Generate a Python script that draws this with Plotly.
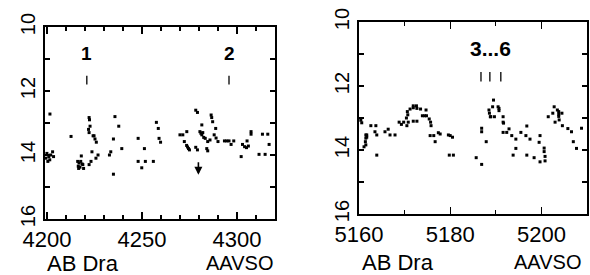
import plotly.graph_objects as go

# ---------------- data ----------------
# Left panel: AB Dra, JD-2440000 4199..4320
left_jd = [4201.6, 4199.5, 4200.0, 4200.5, 4201.0, 4201.5, 4202.0, 4203.0, 4203.5,
           4212.7, 4222.2, 4222.4, 4222.7, 4221.9, 4222.2, 4224.3, 4224.8, 4225.3, 4226.0,
           4223.7, 4226.9, 4225.8, 4223.2, 4222.2, 4218.1,
           4216.2, 4216.9, 4217.8, 4218.5, 4216.5, 4217.4, 4218.9, 4219.3, 4216.7,
           4235.8, 4237.8, 4235.0, 4239.4, 4233.6, 4232.9, 4235.0,
           4248.0, 4251.3, 4248.0, 4249.9, 4251.8, 4256.0,
           4257.6, 4258.6, 4259.0, 4259.8,
           4278.3, 4279.2, 4286.4, 4286.7, 4287.2, 4288.8, 4281.5,
           4280.5, 4281.0, 4281.5, 4282.0, 4282.5, 4283.3,
           4271.5, 4273.6, 4272.3, 4273.5, 4274.0, 4274.5, 4275.0, 4270.0,
           4278.3, 4279.2, 4284.1, 4284.6, 4284.6, 4285.8,
           4288.0, 4289.0, 4290.0,
           4293.4, 4294.6, 4295.8, 4296.9, 4298.3,
           4302.2, 4302.9, 4304.0, 4305.0, 4306.0, 4305.3,
           4307.4, 4307.4, 4313.4, 4316.2, 4316.9, 4311.6, 4314.8]
left_mag = [12.72, 14.10, 13.95, 14.20, 14.05, 14.15, 14.00, 13.90, 14.05,
            13.42, 12.83, 12.90, 13.10, 13.20, 13.30, 13.40, 13.40, 13.50, 13.60,
            13.90, 14.00, 14.10, 14.20, 14.30, 14.03,
            14.20, 14.25, 14.20, 14.28, 14.35, 14.38, 14.30, 14.42, 14.42,
            12.80, 13.10, 13.50, 13.80, 13.90, 14.00, 14.60,
            13.48, 13.80, 14.20, 14.40, 14.20, 14.20,
            12.98, 13.17, 13.48, 13.60,
            12.60, 12.67, 12.75, 12.83, 12.96, 13.17, 13.06,
            13.27, 13.32, 13.37, 13.30, 13.45, 13.48,
            13.37, 13.27, 13.58, 13.70, 13.75, 13.80, 13.84, 13.37,
            13.76, 13.84, 13.80, 13.87, 13.58, 13.53,
            13.37, 13.47, 13.58,
            13.56, 13.56, 13.56, 13.67, 13.56,
            14.05, 13.67, 13.74, 13.77, 13.72, 13.56,
            13.27, 13.35, 13.35, 13.35, 13.67, 13.98, 13.98]

# Right panel: AB Dra, JD-2440000 5160..5210
right_jd = [5160.4, 5160.6, 5161.1, 5161.5, 5161.5, 5161.4, 5161.7, 5161.7, 5161.5,
            5162.6, 5163.7, 5163.5, 5163.9, 5163.9,
            5165.7, 5166.4, 5166.8, 5167.9,
            5168.8, 5169.3, 5169.8, 5170.5, 5170.8, 5170.6, 5170.7, 5170.4,
            5171.2, 5171.9, 5171.9, 5172.6, 5172.7, 5171.9, 5172.7,
            5173.5, 5173.9, 5174.4, 5174.7, 5174.8, 5175.4, 5175.7, 5175.8,
            5175.6, 5176.4, 5176.7, 5177.4, 5177.8, 5179.6, 5180.0, 5180.5, 5179.8, 5180.7,
            5185.7, 5186.9, 5186.9, 5186.9, 5187.9, 5188.5, 5188.6, 5188.8, 5188.9,
            5189.5, 5189.3, 5189.7, 5190.5, 5190.7, 5190.7, 5191.6, 5191.6, 5191.7,
            5191.6, 5192.4, 5192.9, 5193.5, 5194.4, 5193.8, 5194.4, 5195.5, 5196.6,
            5196.8, 5197.5, 5196.8, 5198.4, 5199.5, 5199.7, 5199.7,
            5200.6, 5200.6, 5200.8, 5200.8, 5201.5, 5202.5, 5202.8, 5203.0,
            5203.5, 5203.8, 5203.8, 5203.9, 5203.8, 5204.5, 5204.6, 5205.8, 5206.6,
            5207.0, 5207.7, 5208.8]
right_mag = [13.07, 13.15, 13.90, 13.53, 13.63, 13.74, 13.53, 13.60, 13.84,
             13.24, 13.24, 13.43, 13.53, 14.16,
             13.43, 13.35, 13.53, 13.53,
             13.13, 13.20, 13.13, 13.24, 13.13, 12.80, 12.90, 13.00,
             12.72, 12.62, 12.68, 12.62, 12.70, 13.10, 13.10,
             12.72, 12.93, 12.93, 12.75, 12.93, 13.03, 13.13, 13.24,
             13.55, 13.55, 13.74, 13.46, 13.50, 13.53, 13.55, 13.60, 14.16, 14.16,
             14.24, 14.45, 13.32, 13.43, 13.74, 12.75, 12.85, 12.96, 12.96,
             12.44, 12.65, 12.96, 12.65, 12.70, 12.77, 12.96, 13.13, 13.16,
             13.45, 13.45, 13.34, 13.55, 13.66, 14.16, 13.95, 13.45, 13.55,
             13.25, 13.66, 14.16, 14.24, 13.76, 13.55, 14.37,
             13.94, 14.05, 14.20, 14.34, 12.96, 12.85, 12.65, 13.13,
             12.75, 12.80, 12.95, 13.06, 12.88, 12.85, 13.24, 13.33, 13.43,
             13.74, 13.95, 13.32]

# event labels and marker dashes
left_event_labels = ["1", "2"]
left_event_jd = [4221.0, 4295.8]
right_event_label = "3...6"
right_event_label_jd = 5188.9
right_event_jd = [5186.75, 5188.7, 5191.1]
event_label_mag = 10.82
event_dash_mag = [11.52, 11.80]
right_dash_mag = [11.56, 11.86]

# upper-limit arrow
arrow_jd = 4279.7
arrow_mag = [14.18, 14.62]

left_xticks = [4200, 4250, 4300]
right_xticks = [5160, 5180, 5200]
mag_ticks = [10, 12, 14, 16]

FONT = "Liberation Sans, Arial, sans-serif"
W, H = 590, 275


def dash_xy(xs, ys):
    X, Y = [], []
    for x in xs:
        X += [x, x, None]
        Y += [ys[0], ys[1], None]
    return X, Y


fig = go.Figure()
mk = dict(color="black", size=3, symbol="square", line=dict(width=0))
fig.add_trace(go.Scatter(x=left_jd, y=left_mag, mode="markers", marker=mk,
                         xaxis="x", yaxis="y", showlegend=False, hoverinfo="skip"))
fig.add_trace(go.Scatter(x=right_jd, y=right_mag, mode="markers", marker=mk,
                         xaxis="x2", yaxis="y2", showlegend=False, hoverinfo="skip"))

dx, dy = dash_xy(left_event_jd, event_dash_mag)
fig.add_trace(go.Scatter(x=dx, y=dy, mode="lines", line=dict(color="black", width=1.3),
                         xaxis="x", yaxis="y", showlegend=False, hoverinfo="skip"))
dx, dy = dash_xy(right_event_jd, right_dash_mag)
fig.add_trace(go.Scatter(x=dx, y=dy, mode="lines", line=dict(color="black", width=1.3),
                         xaxis="x2", yaxis="y2", showlegend=False, hoverinfo="skip"))

annotations = []
for lab, x in zip(left_event_labels, left_event_jd):
    annotations.append(dict(x=x, y=event_label_mag, xref="x", yref="y", text=f"<b>{lab}</b>",
                            showarrow=False, font=dict(family=FONT, size=19, color="black")))
annotations.append(dict(x=right_event_label_jd, y=event_label_mag, xref="x2", yref="y2",
                        text=f"<b>{right_event_label}</b>", showarrow=False,
                        font=dict(family=FONT, size=21, color="black")))
annotations.append(dict(x=arrow_jd, y=arrow_mag[1], ax=arrow_jd, ay=arrow_mag[0],
                        xref="x", yref="y", axref="x", ayref="y", text="", showarrow=True,
                        arrowhead=2, arrowsize=1, arrowwidth=1.6, arrowcolor="black"))

# footer labels
for xl, xr, y in [(45, 275, 263), (360, 583, 262)]:
    annotations.append(dict(x=xl / W, y=1 - y / H, xref="paper", yref="paper", text="AB Dra",
                            xanchor="left", yanchor="middle", showarrow=False,
                            font=dict(family=FONT, size=22, color="black")))
    annotations.append(dict(x=xr / W, y=1 - y / H, xref="paper", yref="paper", text="AAVSO",
                            xanchor="right", yanchor="middle", showarrow=False,
                            font=dict(family=FONT, size=20, color="black")))

axis_common = dict(showline=True, linecolor="black", linewidth=1.6, mirror="ticks",
                   ticks="inside", tickcolor="black", tickwidth=1.3, showgrid=False,
                   zeroline=False, automargin=False,
                   tickfont=dict(family=FONT, size=22, color="black"))

fig.update_layout(
    template="none",
    width=W, height=H, margin=dict(l=0, r=0, t=0, b=0, pad=0),
    paper_bgcolor="white", plot_bgcolor="white", hovermode=False,
    xaxis=dict(axis_common, domain=[45 / W, 275 / W], range=[4199, 4320], anchor="y",
               tickvals=left_xticks, ticklen=7,
               minor=dict(dtick=10, tick0=4200, ticklen=4, ticks="inside", tickcolor="black", tickwidth=1.3)),
    yaxis=dict(axis_common, domain=[1 - 219 / H, 1 - 27 / H], range=[16, 10], anchor="x",
               tickvals=mag_ticks, ticklen=5, tickangle=-90,
               tickfont=dict(family=FONT, size=20, color="black"),
               minor=dict(dtick=1, tick0=10, ticklen=5, ticks="inside", tickcolor="black", tickwidth=1.3)),
    xaxis2=dict(axis_common, domain=[359 / W, 587 / W], range=[5160, 5210], anchor="y2",
                tickvals=right_xticks, ticklen=7,
                minor=dict(dtick=10, tick0=5160, ticklen=4, ticks="inside", tickcolor="black", tickwidth=1.3)),
    yaxis2=dict(axis_common, domain=[1 - 214 / H, 1 - 22 / H], range=[16, 10], anchor="x2",
                tickvals=mag_ticks, ticklen=5, tickangle=-90,
                tickfont=dict(family=FONT, size=20, color="black"),
                minor=dict(dtick=1, tick0=10, ticklen=5, ticks="inside", tickcolor="black", tickwidth=1.3)),
    annotations=annotations,
)

fig.write_html("out.html", config={"displayModeBar": False, "staticPlot": True},
               post_script="document.body.style.margin='0';document.body.style.overflow='hidden';")
